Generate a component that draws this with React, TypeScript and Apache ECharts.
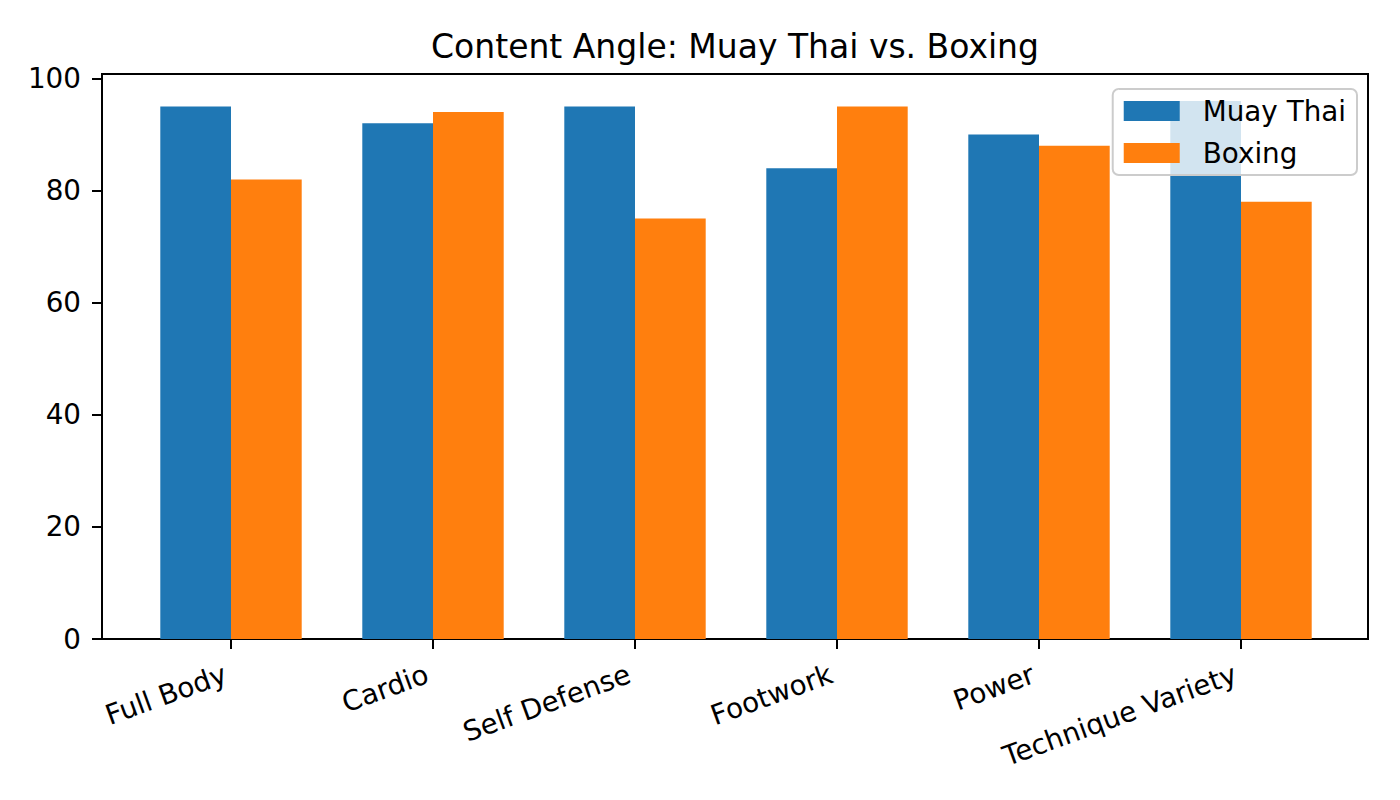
import React, { useEffect, useRef } from "react";
import * as echarts from "echarts";

const categories = ["Full Body", "Cardio", "Self Defense", "Footwork", "Power", "Technique Variety"];
const muayThai = [95, 92, 95, 84, 90, 96];
const boxing = [82, 94, 75, 95, 88, 78];
const yTicks = [0, 20, 40, 60, 80, 100];
const yMax = 100.8;

const FONT = "DejaVu Sans";

export default function App() {
  const ref = useRef<HTMLDivElement>(null);
  useEffect(() => {
    const chart = echarts.init(ref.current!, null, { renderer: "svg" });
    chart.setOption({
      animation: false,
      backgroundColor: "#fff",
      textStyle: { fontFamily: FONT },
      title: {
        text: "Content Angle: Muay Thai vs. Boxing",
        left: 735,
        top: 30,
        textAlign: "center",
        padding: 0,
        textStyle: { fontFamily: FONT, fontSize: 33, fontWeight: "normal", color: "#000" },
      },
      legend: {
        data: ["Muay Thai", "Boxing"],
        orient: "vertical",
        right: 43,
        top: 89,
        itemWidth: 56,
        itemHeight: 20,
        itemGap: 14,
        padding: [8, 11, 8, 11],
        backgroundColor: "rgba(255,255,255,0.8)",
        borderColor: "#cccccc",
        borderWidth: 2,
        borderRadius: 6,
        icon: "rect",
        textStyle: { fontFamily: FONT, fontSize: 27.8, color: "#000", padding: [0, 0, 0, 18] },
      },
      grid: [
        { left: 102, right: 32, top: 74, bottom: 161, show: true, borderColor: "#000", borderWidth: 2, backgroundColor: "transparent" },
        { left: 130, width: 1212, top: 74, bottom: 161 },
      ],
      xAxis: [
        { type: "value", gridIndex: 0, show: false, min: 0, max: 1 },
        {
          type: "category",
          gridIndex: 1,
          data: categories,
          axisLine: { show: false },
          axisTick: { show: true, alignWithLabel: true, length: 10, lineStyle: { color: "#000", width: 2 } },
          axisLabel: { rotate: 20, margin: 32, padding: [0, 6, 0, 0], fontFamily: FONT, fontSize: 27.8, color: "#000", interval: 0 },
          splitLine: { show: false },
        },
      ],
      yAxis: [
        {
          type: "value",
          gridIndex: 0,
          min: 0,
          max: yMax,
          axisLine: { show: false },
          axisTick: { show: true, length: 10, lineStyle: { color: "#000", width: 2 }, customValues: yTicks },
          axisLabel: { margin: 21, fontFamily: FONT, fontSize: 27.8, color: "#000", customValues: yTicks },
          splitLine: { show: false },
        },
        { type: "value", gridIndex: 1, min: 0, max: yMax, show: false, splitLine: { show: false } },
      ],
      series: [
        {
          name: "Muay Thai",
          type: "bar",
          xAxisIndex: 1,
          yAxisIndex: 1,
          data: muayThai,
          barWidth: "35%",
          barGap: "0%",
          itemStyle: { color: "#1f77b4" },
        },
        {
          name: "Boxing",
          type: "bar",
          xAxisIndex: 1,
          yAxisIndex: 1,
          data: boxing,
          barWidth: "35%",
          barGap: "0%",
          itemStyle: { color: "#ff7f0e" },
        },
      ],
    });
    return () => chart.dispose();
  }, []);
  return <div ref={ref} style={{ position: "fixed", left: 0, top: 0, width: 1400, height: 800 }} />;
}
